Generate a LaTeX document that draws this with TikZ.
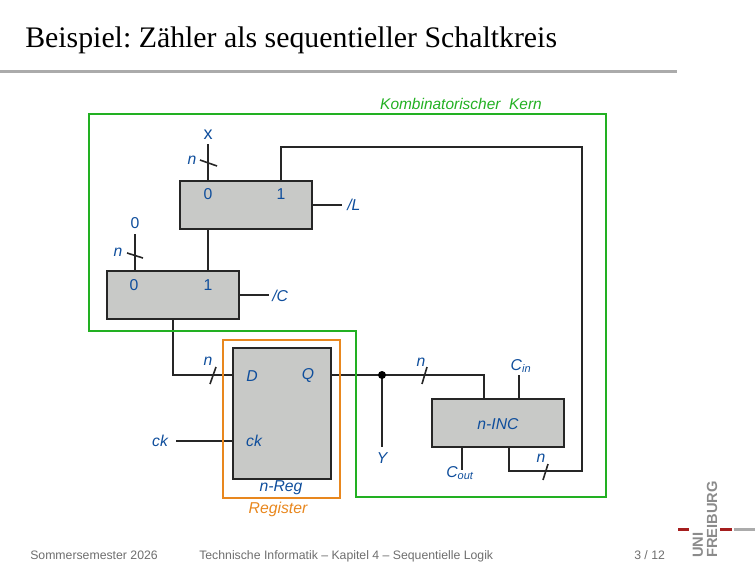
\documentclass[tikz,border=0pt]{standalone}
\usepackage{fontspec}
\setmainfont{Liberation Serif}
\setsansfont{Liberation Sans}
\usepackage{tikz}
\usetikzlibrary{positioning}
\definecolor{labelblue}{HTML}{0F4E9C}
\definecolor{kerngreen}{HTML}{22B022}
\definecolor{regorange}{HTML}{E8871E}
\definecolor{boxgray}{HTML}{C8C9C7}
\definecolor{rulegray}{HTML}{ABABAB}
\definecolor{footgray}{HTML}{6E6E6E}
\definecolor{logored}{HTML}{A51E1E}

\begin{document}
\begin{tikzpicture}[
    x=0.75pt, y=-0.75pt,
    block/.style={draw=black!85, line width=1.4pt, fill=boxgray, inner sep=0pt},
    wire/.style={draw=black!85, line width=1.2pt},
    lbl/.style={text=labelblue, font=\sffamily\itshape\fontsize{11.8}{14}\selectfont, inner sep=0pt},
    num/.style={text=labelblue, font=\sffamily\fontsize{11.8}{14}\selectfont, inner sep=0pt},
    foot/.style={text=footgray, font=\sffamily\fontsize{9.2}{11}\selectfont, inner sep=0pt, anchor=base west}
]
    \useasboundingbox (0,0) rectangle (756,567);

    % Titel und Kopflinie
    \node[anchor=base west, inner sep=0pt, font=\fontsize{22.37}{26}\selectfont] (title) at (25,48) {\frenchspacing Beispiel: Zähler als sequentieller Schaltkreis};
    \fill[rulegray] (0,70.5) rectangle (677,73.5);

    % Bloecke
    \draw[block] (180,181) rectangle (312,229);
    \draw[block] (107,271) rectangle (239,319);
    \draw[block] (233,348) rectangle (331,479);
    \draw[block] (432,399) rectangle (564,447);

    % Anschluesse
    \coordinate (muxa0) at (208,181);
    \coordinate (muxa1) at (281,181);
    \coordinate (muxaout) at (208,229);
    \coordinate (muxactl) at (312,205);
    \coordinate (muxb0) at (135,271);
    \coordinate (muxb1) at (208,271);
    \coordinate (muxbout) at (173,319);
    \coordinate (muxbctl) at (239,295);
    \coordinate (regd) at (233,375);
    \coordinate (regq) at (331,375);
    \coordinate (regck) at (233,441);
    \coordinate (incin) at (484,399);
    \coordinate (inccin) at (519,399);
    \coordinate (inccout) at (462,447);
    \coordinate (incout) at (509,447);
    \coordinate (split) at (382,375);

    % Verbindungen
    \draw[wire] (208,144) -- (muxa0);
    \draw[wire] (muxaout) -- (muxb1);
    \draw[wire] (135,234) -- (muxb0);
    \draw[wire] (muxactl) -- (342,205);
    \draw[wire] (muxbctl) -- (269,295);
    \draw[wire] (muxbout) |- (regd);
    \draw[wire] (regq) -- (split) -- (484,375) -- (incin);
    \draw[wire] (split) -- (382,447);
    \fill[black] (split) circle (4);
    \draw[wire] (176,441) -- (regck);
    \draw[wire] (inccin) -- (519,375);
    \draw[wire] (inccout) -- (462,470);
    \draw[wire] (incout) -- (509,471) -- (582,471) -- (582,147) -- (281,147) -- (muxa1);

    % Bus-Striche
    \draw[wire] (200,160) -- (217,166);
    \draw[wire] (127,253) -- (143,258);
    \draw[wire] (210,384) -- (216,367);
    \draw[wire] (422,384) -- (427,367);
    \draw[wire] (543,480) -- (548,464);

    % Rahmen
    \draw[kerngreen, line width=1.4pt] (89,114) -- (606,114) -- (606,497) -- (356,497) -- (356,331) -- (89,331) -- cycle;
    \draw[regorange, line width=1.4pt] (223,340) -- (340,340) -- (340,498) -- (223,498) -- cycle;
    \node[font=\sffamily\itshape\fontsize{11.6}{14}\selectfont, text=kerngreen, inner sep=0pt] (kern) at (461,104) {Kombinatorischer\ \ Kern};
    \node[font=\sffamily\itshape\fontsize{11.8}{14}\selectfont, text=regorange, inner sep=0pt] (reglbl) at (278,509) {Register};

    % Beschriftungen
    \node[num, font=\sffamily\fontsize{13.5}{16}\selectfont] (xlbl) at (208,134.5) {x};
    \node[lbl] at (192,160) (na) {n};
    \node[num] (zero) at (135,223) {0};
    \node[lbl] (nb) at (118,252) {n};
    \node[num] (a0) at (208,194) {0};
    \node[num] (a1) at (281,194) {1};
    \node[num] (b0) at (134,285) {0};
    \node[num] (b1) at (208,285) {1};
    \node[lbl, anchor=west] (llbl) at (347,205) {/L};
    \node[lbl, anchor=west] (clbl) at (272,296) {/C};
    \node[lbl] (nc) at (208,361) {n};
    \node[lbl] (dlbl) at (252,376) {D};
    \node[lbl] (qlbl) at (308,375) {Q};
    \node[lbl] (cklbl) at (160,441) {ck};
    \node[lbl] (ckin) at (254,441) {ck};
    \node[lbl] (nreg) at (281,488) {n-Reg};
    \node[lbl] (ylbl) at (382,458) {Y};
    \node[lbl] (nd) at (421,362) {n};
    \node[lbl] (cin) at (521,366) {C\textsubscript{in}};
    \node[lbl] (inclbl) at (498,424) {n-INC};
    \node[lbl] (cout) at (460,473) {C\textsubscript{out}};
    \node[lbl] (ne) at (541,458) {n};

    % Fusszeile
    \node[foot] (sem) at (30,559) {Sommersemester 2026};
    \node[foot] (vl) at (199,559) {Technische Informatik – Kapitel 4 – Sequentielle Logik};
    \node[foot] (page) at (634,559) {3 / 12};

    % Logo
    \fill[logored] (678,528) rectangle (689,530.5);
    \fill[logored] (720,528) rectangle (732,530.5);
    \fill[rulegray] (734,528) rectangle (755,530.5);
    \node[rotate=90, anchor=west, inner sep=0pt, text=footgray!80, font=\sffamily\bfseries\fontsize{11}{12}\selectfont] (uni) at (698,558) {UNI};
    \node[rotate=90, anchor=west, inner sep=0pt, text=footgray!80, font=\sffamily\bfseries\fontsize{11}{12}\selectfont] (freiburg) at (712,558) {FREIBURG};
\end{tikzpicture}
\end{document}
